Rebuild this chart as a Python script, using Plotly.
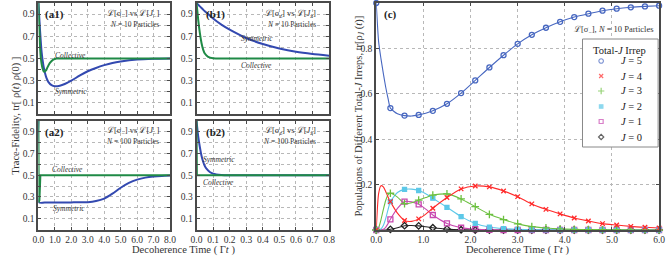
import plotly.graph_objects as go

W, H = 670, 259

# ---------------- data: panel (a1) N=10, L[sigma_-] vs L[J_-] ----------------
t_a1 = [0, 0.05, 0.1, 0.15, 0.22, 0.3, 0.36, 0.45, 0.55, 0.7, 0.9, 1.1, 1.5, 2.0, 3.0, 4.0, 5.0, 6.0, 7.0, 8.0]
coll_a1 = [1.0, 0.78, 0.6, 0.5, 0.43, 0.39, 0.38, 0.39, 0.42, 0.46, 0.49, 0.5, 0.5, 0.5, 0.5, 0.5, 0.5, 0.5, 0.5, 0.5]
t_a1s = [0, 0.1, 0.2, 0.3, 0.4, 0.5, 0.6, 0.8, 1.0, 1.3, 1.6, 2.0, 2.5, 3.0, 3.5, 4.0, 4.5, 5.0, 6.0, 7.0, 8.0]
sym_a1 = [1.0, 0.75, 0.55, 0.44, 0.37, 0.32, 0.29, 0.26, 0.25, 0.255, 0.27, 0.3, 0.345, 0.385, 0.415, 0.44, 0.46, 0.473, 0.49, 0.497, 0.5]

# ---------------- data: panel (a2) N=100 ----------------
t_a2c = [0, 0.02, 0.06, 0.12, 0.2, 8.0]
coll_a2 = [1.0, 0.25, 0.27, 0.5, 0.5, 0.5]
t_a2s = [0, 0.02, 0.5, 1.0, 2.0, 3.0, 3.5, 4.0, 4.5, 5.0, 5.5, 6.0, 6.5, 7.0, 7.5, 8.0]
sym_a2 = [1.0, 0.25, 0.25, 0.25, 0.25, 0.252, 0.262, 0.285, 0.33, 0.385, 0.43, 0.46, 0.478, 0.488, 0.494, 0.497]

# ---------------- data: panel (b1) N=10, L[sigma_z] vs L[J_z] ----------------
t_b1 = [0, 0.01, 0.02, 0.03, 0.04, 0.05, 0.07, 0.1, 0.15, 0.2, 0.3, 0.4, 0.5, 0.6, 0.7, 0.8]
coll_b1 = [1.0, 0.85, 0.73, 0.64, 0.58, 0.545, 0.515, 0.503, 0.5, 0.5, 0.5, 0.5, 0.5, 0.5, 0.5, 0.5]
sym_b1 = [1.0, 0.985, 0.97, 0.955, 0.94, 0.925, 0.9, 0.86, 0.805, 0.76, 0.685, 0.63, 0.59, 0.56, 0.54, 0.525]

# ---------------- data: panel (b2) N=100 ----------------
t_b2c = [0, 0.002, 0.8]
coll_b2 = [1.0, 0.5, 0.5]
t_b2s = [0, 0.01, 0.02, 0.03, 0.04, 0.05, 0.06, 0.08, 0.1, 0.15, 0.2, 0.3, 0.8]
sym_b2 = [1.0, 0.86, 0.76, 0.68, 0.625, 0.585, 0.56, 0.53, 0.515, 0.503, 0.5, 0.5, 0.5]

# ---------------- data: panel (c) populations of total-J irreps ----------------
t_c = [0, 0.05, 0.1, 0.15, 0.2, 0.25, 0.3, 0.45, 0.6, 0.75, 0.9, 1.05, 1.2, 1.5, 1.8, 2.1, 2.4,
       2.7, 3.0, 3.3, 3.6, 3.9, 4.2, 4.5, 4.8, 5.1, 5.4, 5.7, 6.0]
pop_J5 = [1.0, 0.83, 0.755, 0.69, 0.63, 0.58, 0.537, 0.512, 0.504, 0.502, 0.507, 0.514, 0.525, 0.556,
          0.603, 0.659, 0.716, 0.77, 0.82, 0.86, 0.891, 0.917, 0.938, 0.953, 0.966, 0.975, 0.981, 0.985, 0.988]
pop_J4 = [0, 0.16, 0.195, 0.19, 0.17, 0.145, 0.125, 0.074, 0.042, 0.038, 0.049, 0.07, 0.096, 0.143,
          0.181, 0.194, 0.19, 0.172, 0.147, 0.115, 0.091, 0.071, 0.053, 0.04, 0.028, 0.022, 0.016, 0.012, 0.009]
pop_J3 = [0, 0.01, 0.045, 0.09, 0.13, 0.155, 0.162, 0.145, 0.116, 0.12, 0.132, 0.143, 0.154, 0.159,
          0.137, 0.103, 0.069, 0.046, 0.027, 0.015, 0.009, 0.005, 0.003, 0.002, 0.001, 0.001, 0, 0, 0]
pop_J2 = [0, 0, 0.005, 0.02, 0.05, 0.09, 0.125, 0.165, 0.179, 0.18, 0.174, 0.16, 0.14, 0.1,
          0.059, 0.029, 0.013, 0.006, 0.003, 0.001, 0.001, 0, 0, 0, 0, 0, 0, 0, 0]
pop_J1 = [0, 0, 0, 0.003, 0.012, 0.028, 0.047, 0.095, 0.125, 0.124, 0.113, 0.092, 0.066, 0.029,
          0.01, 0.004, 0.001, 0, 0, 0, 0, 0, 0, 0, 0, 0, 0, 0, 0]
pop_J0 = [0, 0, 0, 0, 0, 0.001, 0.003, 0.01, 0.019, 0.02, 0.018, 0.014, 0.01, 0.004,
          0.001, 0, 0, 0, 0, 0, 0, 0, 0, 0, 0, 0, 0, 0, 0]
j_labels = ["5", "4", "3", "2", "1", "0"]

# ---------------- styling ----------------
FONT = "Liberation Serif"
BLUE = "#3349b0"
GREEN = "#1f8a46"
AX = "#4a4a4a"

fig = go.Figure()

def px_x(p):
    return p / W

def px_y(p):
    return 1 - p / H

# panel boxes in pixels (left, right, top, bottom)
boxes = {
    "a1": (33, 167, 3, 114),
    "b1": (194, 329, 3, 114),
    "a2": (33, 167, 121, 229.5),
    "b2": (194, 329, 121, 229.5),
    "c": (377, 665, 3, 230),
}
axis_id = {"a1": "", "b1": "2", "a2": "3", "b2": "4", "c": "5"}

def add_line(panel, x, y, color, width=2.0, shape="linear"):
    i = axis_id[panel]
    fig.add_trace(go.Scatter(x=x, y=y, mode="lines", showlegend=False,
                             line=dict(color=color, width=width, shape=shape, smoothing=0.6),
                             xaxis="x" + i, yaxis="y" + i, hoverinfo="skip"))

add_line("a1", t_a1s, sym_a1, BLUE, shape="spline")
add_line("a1", t_a1, coll_a1, GREEN, shape="spline")
add_line("a2", t_a2s, sym_a2, BLUE, shape="spline")
add_line("a2", t_a2c, coll_a2, GREEN)
add_line("b1", t_b1, sym_b1, BLUE, shape="spline")
add_line("b1", t_b1, coll_b1, GREEN, shape="spline")
add_line("b2", t_b2s, sym_b2, BLUE, shape="spline")
add_line("b2", t_b2c, coll_b2, GREEN)

# panel c: smooth lines + markers every 0.3
series_c = [pop_J5, pop_J4, pop_J3, pop_J2, pop_J1, pop_J0]
colors_c = ["#4767c0", "#ff2a2a", "#6cc040", "#5cc8e8", "#c848b0", "#222222"]
symbols_c = ["circle-open", "x-thin-open", "cross-thin-open", "square", "square-open", "diamond-open"]
msize_c = [5, 4.5, 5.5, 4, 5, 5]
mark_idx = [k for k, t in enumerate(t_c) if abs(t / 0.3 - round(t / 0.3)) < 1e-6]

for vals, col in zip(series_c[::-1], colors_c[::-1]):
    fig.add_trace(go.Scatter(x=t_c, y=vals, mode="lines", showlegend=False,
                             line=dict(color=col, width=1.1, shape="spline", smoothing=0.6),
                             xaxis="x5", yaxis="y5", hoverinfo="skip"))
for vals, col, sym, ms in zip(series_c[::-1], colors_c[::-1], symbols_c[::-1], msize_c[::-1]):
    fig.add_trace(go.Scatter(x=[t_c[k] for k in mark_idx], y=[vals[k] for k in mark_idx],
                             mode="markers", showlegend=False, cliponaxis=False, hoverinfo="skip",
                             marker=dict(symbol=sym, size=ms, color=col,
                                         line=dict(color=col, width=1.3)),
                             xaxis="x5", yaxis="y5"))

# custom compact legend (drawn on a pixel-space overlay subplot above panel c)
LEG_L, LEG_R, LEG_T, LEG_B = 587, 664, 39, 147
leg_rows = [61, 76, 91, 106.5, 121.5, 137]
leg_sizes = [4.5, 4, 4.5, 3.5, 4, 4]
fig.add_trace(go.Scatter(x=[606] * len(j_labels), y=leg_rows, mode="markers", showlegend=False,
                         cliponaxis=False, hoverinfo="skip",
                         marker=dict(symbol=symbols_c, size=leg_sizes, color=colors_c,
                                     line=dict(color=colors_c, width=1.2)),
                         xaxis="x6", yaxis="y6"))

def axis_common():
    return dict(showline=True, linecolor=AX, linewidth=2, mirror="ticks",
                ticks="inside", ticklen=3, tickcolor=AX, tickwidth=1,
                showgrid=True, gridcolor="#b8b8b8", griddash="dot", gridwidth=1,
                zeroline=False, tickfont=dict(family=FONT, size=9.5, color="#333"))

layout = dict(width=W, height=H, margin=dict(l=0, r=0, t=0, b=0),
              paper_bgcolor="white", plot_bgcolor="rgba(0,0,0,0)", showlegend=False,
              font=dict(family=FONT, color="#222"))

fid_vals = [0.1, 0.2, 0.3, 0.4, 0.5, 0.6, 0.7, 0.8, 0.9]
fid_text = ["0.1", "", "0.3", "", "0.5", "", "0.7", "", "0.9"]
a_x_vals = [0, 1, 2, 3, 4, 5, 6, 7, 8]
b_x_vals = [0, 0.1, 0.2, 0.3, 0.4, 0.5, 0.6, 0.7, 0.8]

for p, (l, r, t, b) in boxes.items():
    i = axis_id[p]
    xa = axis_common()
    ya = axis_common()
    xa.update(domain=[px_x(l), px_x(r)], anchor="y" + i)
    ya.update(domain=[px_y(b), px_y(t)], anchor="x" + i)
    if p in ("a1", "a2"):
        xa.update(range=[0, 8], tickvals=a_x_vals, ticktext=["%.1f" % v for v in a_x_vals])
    elif p in ("b1", "b2"):
        xa.update(range=[0, 0.8], tickvals=b_x_vals, ticktext=["%.1f" % v for v in b_x_vals])
    else:
        xa.update(range=[0, 6], tickvals=[0, 1, 2, 3, 4, 5, 6],
                  ticktext=["%.1f" % v for v in [0, 1, 2, 3, 4, 5, 6]])
    if p in ("a1", "b1"):
        xa.update(showticklabels=False)
    if p != "c":
        ya.update(range=[0, 1.0], tickvals=fid_vals, ticktext=fid_text)
    else:
        ya.update(range=[0, 1.0], tickvals=[0.2, 0.4, 0.6, 0.8, 1.0],
                  ticktext=["0.2", "0.4", "0.6", "0.8", "1.0"])
    layout["xaxis" + i] = xa
    layout["yaxis" + i] = ya

layout["xaxis6"] = dict(domain=[0, 1], range=[0, W], visible=False, showgrid=False,
                        anchor="y6", fixedrange=True)
layout["yaxis6"] = dict(domain=[0, 1], range=[H, 0], visible=False, showgrid=False,
                        anchor="x6", fixedrange=True)
layout["shapes"] = [dict(type="rect", xref="x6", yref="y6", layer="below",
                         x0=LEG_L, x1=LEG_R, y0=LEG_T, y1=LEG_B,
                         fillcolor="white", line=dict(color="#888", width=1))]

fig.update_layout(**layout)

def ann(x, y, text, size=8, xanchor="center", **kw):
    fig.add_annotation(x=px_x(x), y=px_y(y), xref="paper", yref="paper", text=text,
                       showarrow=False, xanchor=xanchor, yanchor="middle",
                       font=dict(family=FONT, size=size, color=kw.pop("color", "#333")), **kw)

# legend texts
ann(625, 50, "Total-<i>J</i> Irrep", size=10.5, color="#222")
for yy, lab in zip(leg_rows, j_labels):
    ann(624, yy, "<i>J</i> = " + lab, size=10.5, xanchor="left", color="#222")

# panel tags
ann(38, 14, "<b>(a1)</b>", size=11, xanchor="left", color="#222")
ann(202, 14, "<b>(b1)</b>", size=11, xanchor="left", color="#222")
ann(38, 132, "<b>(a2)</b>", size=11, xanchor="left", color="#222")
ann(202, 132, "<b>(b2)</b>", size=11, xanchor="left", color="#222")
ann(383, 14, "<b>(c)</b>", size=11, xanchor="left", color="#222")

# model descriptions
ann(158, 13, "ℒ[σ<sub>−</sub>] vs ℒ[<i>J</i><sub>−</sub>]", size=8.5, xanchor="right")
ann(158, 24, "<i>N</i> = 10 Particles", size=7.5, xanchor="right")
ann(318, 13, "ℒ[σ<sub>z</sub>] vs ℒ[<i>J</i><sub>z</sub>]", size=8.5, xanchor="right")
ann(318, 24, "<i>N</i> = 10 Particles", size=7.5, xanchor="right")
ann(158, 130, "ℒ[σ<sub>−</sub>] vs ℒ[<i>J</i><sub>−</sub>]", size=8.5, xanchor="right")
ann(158, 141, "<i>N</i> = 100 Particles", size=7.5, xanchor="right")
ann(318, 130, "ℒ[σ<sub>z</sub>] vs ℒ[<i>J</i><sub>z</sub>]", size=8.5, xanchor="right")
ann(318, 141, "<i>N</i> = 100 Particles", size=7.5, xanchor="right")
ann(661, 29, "ℒ[σ<sub>−</sub>], <i>N</i> = 10 Particles", size=8.5, xanchor="right")

# curve labels
ann(66, 55, "<i>Collective</i>", size=7.5)
ann(66, 92, "<i>Symmetric</i>", size=7.5)
ann(256, 38, "<i>Symmetric</i>", size=7.5)
ann(255, 66, "<i>Collective</i>", size=7.5)
ann(63, 169, "<i>Collective</i>", size=7.5)
ann(64, 208, "<i>Symmetric</i>", size=7.5)
ann(217, 159, "<i>Symmetric</i>", size=7.5)
ann(216, 182, "<i>Collective</i>", size=7.5)

# axis titles
ann(181, 250, "Decoherence Time ( Γ<i>t</i> )", size=10.5)
ann(521, 250, "Decoherence Time ( Γ<i>t</i> )", size=10.5)
ann(10, 116, "Trace-Fidelity, tr[ ρ(<i>t</i>) ρ(0) ]", size=10.5, textangle=-90)
ann(359, 116, "Populations of Different Total-<i>J</i> Irreps, tr[ρ<sub><i>J</i></sub> (<i>t</i>)]",
    size=10.5, textangle=-90)

fig.write_html("out.html", config={"displayModeBar": False},
               post_script="document.body.style.margin='0';document.body.style.overflow='hidden';")
